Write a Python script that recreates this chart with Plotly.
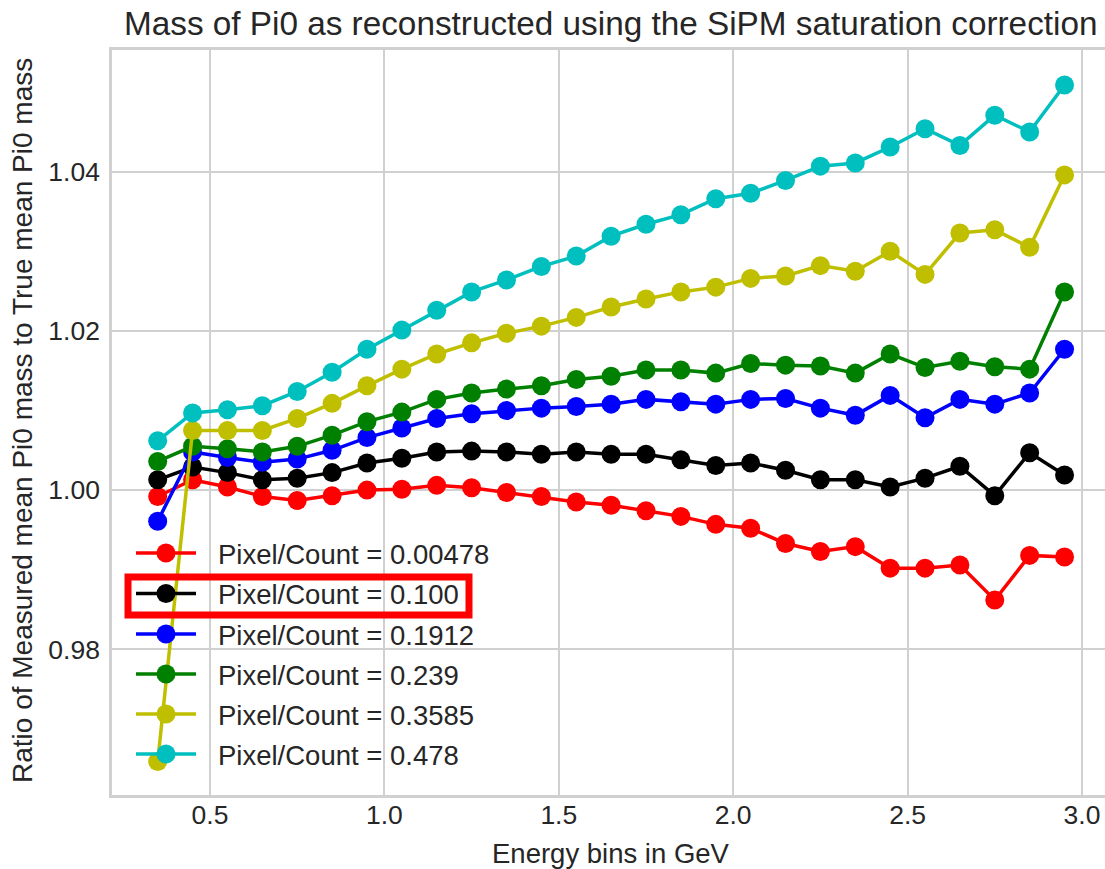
import plotly.graph_objects as go

# Energy bin centres (GeV)
energy = [0.35, 0.45, 0.55, 0.65, 0.75, 0.85, 0.95, 1.05, 1.15, 1.25, 1.35, 1.45, 1.55,
          1.65, 1.75, 1.85, 1.95, 2.05, 2.15, 2.25, 2.35, 2.45, 2.55, 2.65, 2.75, 2.85, 2.95]

# Ratio of measured mean Pi0 mass to true mean Pi0 mass, one list per Pixel/Count value
ratio_00478 = [0.9992, 1.0013, 1.0004, 0.9992, 0.9987, 0.9993, 1.0000, 1.0001, 1.0006, 1.0003,
               0.9997, 0.9992, 0.9985, 0.9981, 0.9974, 0.9967, 0.9957, 0.9952, 0.9933, 0.9923,
               0.9929, 0.9902, 0.9902, 0.9906, 0.9862, 0.9918, 0.9916]
ratio_0100 = [1.0013, 1.0029, 1.0022, 1.0013, 1.0015, 1.0022, 1.0034, 1.0040, 1.0048, 1.0049,
              1.0048, 1.0045, 1.0048, 1.0045, 1.0045, 1.0038, 1.0031, 1.0034, 1.0025, 1.0013,
              1.0013, 1.0004, 1.0015, 1.0030, 0.9993, 1.0047, 1.0019]
ratio_01912 = [0.9961, 1.0048, 1.0041, 1.0035, 1.0039, 1.0050, 1.0066, 1.0078, 1.0090, 1.0096,
               1.0100, 1.0103, 1.0105, 1.0108, 1.0114, 1.0111, 1.0108, 1.0114, 1.0115, 1.0103,
               1.0094, 1.0119, 1.0091, 1.0114, 1.0108, 1.0122, 1.0177]
ratio_0239 = [1.0036, 1.0055, 1.0052, 1.0048, 1.0055, 1.0069, 1.0086, 1.0098, 1.0114, 1.0122,
              1.0127, 1.0131, 1.0139, 1.0143, 1.0151, 1.0151, 1.0147, 1.0159, 1.0157, 1.0156,
              1.0147, 1.0171, 1.0154, 1.0162, 1.0155, 1.0152, 1.0249]
ratio_03585 = [0.9659, 1.0075, 1.0075, 1.0075, 1.0090, 1.0109, 1.0131, 1.0152, 1.0171, 1.0185,
               1.0197, 1.0206, 1.0217, 1.0230, 1.0240, 1.0249, 1.0255, 1.0266, 1.0269, 1.0282,
               1.0275, 1.0300, 1.0271, 1.0323, 1.0327, 1.0305, 1.0396]
ratio_0478 = [1.0062, 1.0097, 1.0101, 1.0106, 1.0124, 1.0148, 1.0177, 1.0201, 1.0226, 1.0249,
              1.0264, 1.0281, 1.0294, 1.0319, 1.0334, 1.0346, 1.0366, 1.0373, 1.0389, 1.0407,
              1.0411, 1.0431, 1.0454, 1.0433, 1.0471, 1.0450, 1.0509]

series_labels = ["Pixel/Count = 0.00478", "Pixel/Count = 0.100", "Pixel/Count = 0.1912",
                 "Pixel/Count = 0.239", "Pixel/Count = 0.3585", "Pixel/Count = 0.478"]
series_values = [ratio_00478, ratio_0100, ratio_01912, ratio_0239, ratio_03585, ratio_0478]
series_colors = ["#ff0000", "#000000", "#0000ff", "#008000", "#bfbf00", "#00bfbf"]

x_ticks = [0.5, 1.0, 1.5, 2.0, 2.5, 3.0]
y_ticks = [0.98, 1.00, 1.02, 1.04]

W, H = 1105, 869
L, R, T, B = 112, 1105, 50, 795  # plot area in pixels
FONT = "Liberation Sans, Arial, sans-serif"
TEXT = "#262626"
GRID = "#d0d0d0"
LW = 3.5
MS = 19


def px(xp):
    return (xp - L) / (R - L)


def py(yp):
    return (B - yp) / (B - T)


fig = go.Figure()
for label, vals, col in zip(series_labels, series_values, series_colors):
    fig.add_trace(go.Scatter(
        x=energy, y=vals, name=label, mode="lines+markers",
        line=dict(color=col, width=LW),
        marker=dict(color=col, size=MS, line=dict(width=0)),
        showlegend=False,
    ))

# Hand-built legend in the lower left, no frame
shapes = []
annotations = []
row_y = [553, 593.5, 634, 674, 714, 754]
for ry, label, col in zip(row_y, series_labels, series_colors):
    shapes.append(dict(type="line", xref="paper", yref="paper", layer="above",
                       x0=px(136), x1=px(196), y0=py(ry), y1=py(ry),
                       line=dict(color=col, width=LW)))
    r = MS / 2
    shapes.append(dict(type="circle", xref="paper", yref="paper", layer="above",
                       x0=px(166 - r), x1=px(166 + r), y0=py(ry + r), y1=py(ry - r),
                       fillcolor=col, line=dict(width=0)))
    annotations.append(dict(text=label, xref="paper", yref="paper", x=px(216), y=py(ry + 1),
                            xanchor="left", yanchor="middle", showarrow=False,
                            font=dict(size=27.5, color=TEXT, family=FONT)))

# Highlight box round the second legend entry
shapes.append(dict(type="rect", xref="paper", yref="paper", layer="above",
                   x0=px(128), x1=px(469), y0=py(615), y1=py(577),
                   line=dict(color="#ff0000", width=7)))

# Title and axis titles
annotations.append(dict(text="Mass of Pi0 as reconstructed using the SiPM saturation correction",
                        xref="paper", yref="paper", x=px(610), y=py(24),
                        xanchor="center", yanchor="middle", showarrow=False,
                        font=dict(size=33.3, color=TEXT, family=FONT)))
annotations.append(dict(text="Energy bins in GeV", xref="paper", yref="paper",
                        x=px(611), y=py(853), xanchor="center", yanchor="middle",
                        showarrow=False, font=dict(size=27.5, color=TEXT, family=FONT)))
annotations.append(dict(text="Ratio of Measured mean Pi0 mass to True mean Pi0 mass",
                        xref="paper", yref="paper", x=px(22), y=py(421), textangle=-90,
                        xanchor="center", yanchor="middle", showarrow=False,
                        font=dict(size=28, color=TEXT, family=FONT)))

fig.update_layout(
    width=W, height=H,
    margin=dict(l=L, r=W - R, t=T, b=H - B, pad=0),
    paper_bgcolor="white", plot_bgcolor="white",
    shapes=shapes, annotations=annotations,
    showlegend=False,
    font=dict(family=FONT, color=TEXT),
)
fig.update_xaxes(
    range=[0.2190, 3.066], tickvals=x_ticks, ticktext=[f"{v:.1f}" for v in x_ticks],
    showgrid=True, gridcolor=GRID, gridwidth=2, zeroline=False,
    showline=True, linecolor=GRID, linewidth=2.5, mirror=True,
    ticks="", ticklen=0, ticklabelstandoff=-6, tickfont=dict(size=26.5, color=TEXT, family=FONT),
)
fig.update_yaxes(
    range=[0.96170, 1.05529], tickvals=y_ticks, ticktext=[f"{v:.2f}" for v in y_ticks],
    showgrid=True, gridcolor=GRID, gridwidth=2, zeroline=False,
    showline=True, linecolor=GRID, linewidth=2.5, mirror=False,
    ticks="", ticklen=0, ticklabelstandoff=4, tickfont=dict(size=26.5, color=TEXT, family=FONT),
)

fig.write_html("out.html")
